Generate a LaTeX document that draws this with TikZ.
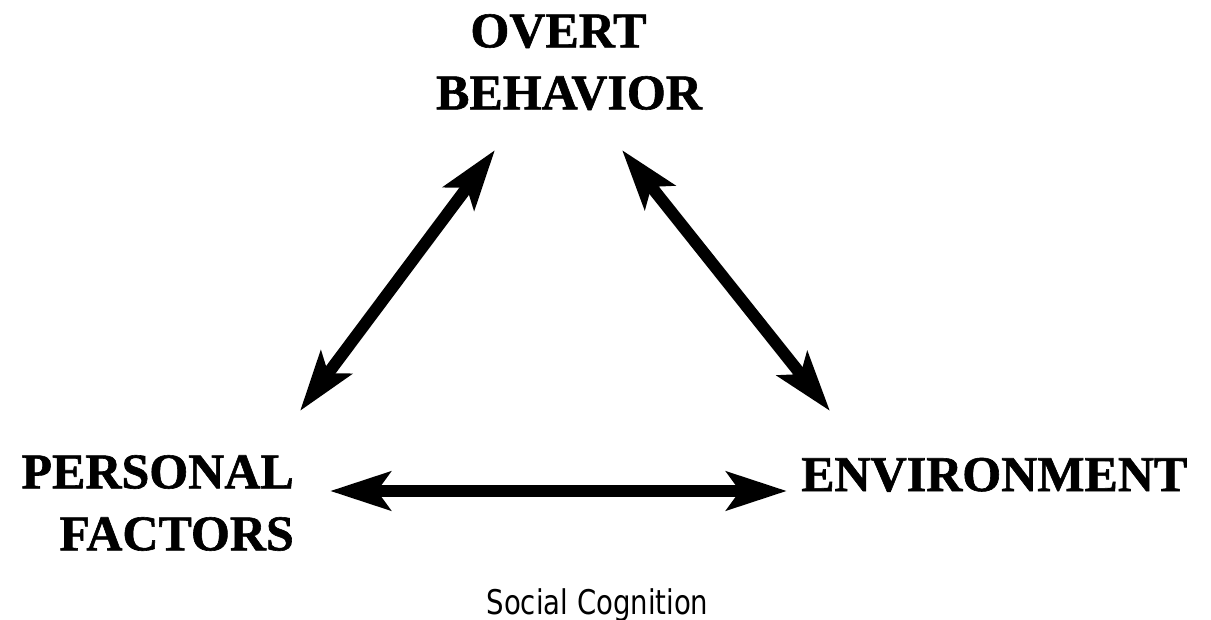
\documentclass[tikz,border=0pt]{standalone}
\usepackage{fontspec}
\usepackage{graphicx}
\setmainfont{Liberation Serif}
\newfontfamily\headfont[FakeBold=1.2]{Liberation Serif Bold}
\newfontfamily\capfont{DejaVu Sans}
\usetikzlibrary{arrows.meta}
\tikzset{
  label/.style={inner sep=0pt, font=\headfont\fontsize{50}{62}\selectfont},
  link/.style={line width=12pt, {Stealth[length=60pt,width=38pt,inset=13pt]}-{Stealth[length=60pt,width=38pt,inset=13pt]}},
}
\begin{document}
\begin{tikzpicture}[x=1pt,y=-1pt]
\path[use as bounding box, fill=white] (0,0) rectangle (1211,620);
\node[label, align=center, anchor=north] (ob) at (569,14) {OVERT\hspace*{21pt}\\BEHAVIOR};
\node[label, align=right, anchor=north east] (pf) at (294,455) {PERSONAL\\FACTORS};
\node[label, anchor=base west] (en) at (801,491) {ENVIRONMENT};
\node[inner sep=0pt, anchor=base] (cap) at (597.5,614) {\capfont\fontsize{34}{40}\selectfont\scalebox{0.81}[1]{Social Cognition}};
\coordinate (obL) at (495,150);
\coordinate (pfT) at (300,411);
\coordinate (obR) at (622,150);
\coordinate (enT) at (830,411);
\coordinate (pfR) at (330,491);
\coordinate (enL) at (787,491);
\draw[link] (pfT) -- (obL);
\draw[link] (obR) -- (enT);
\draw[link] (pfR) -- (enL);
\end{tikzpicture}
\end{document}
